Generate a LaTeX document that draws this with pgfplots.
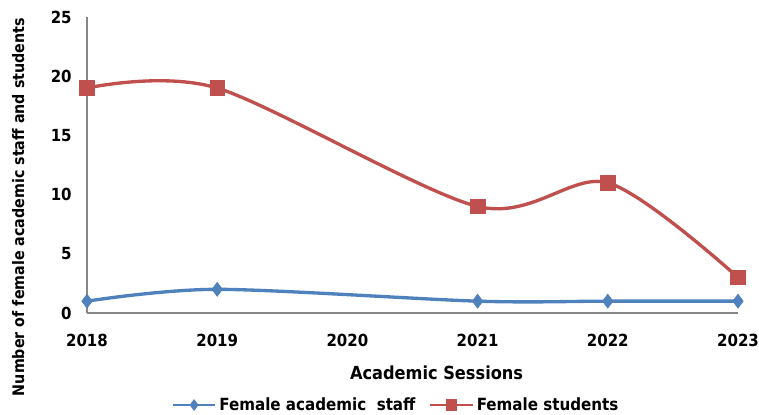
\documentclass[border=0pt]{standalone}
\usepackage{pgfplots}
\pgfplotsset{compat=1.18}
\usepackage{fontspec}
\setmainfont{DejaVu Sans Condensed}
\definecolor{xblue}{HTML}{4F81BD}
\definecolor{xred}{HTML}{C0504D}
\definecolor{axgray}{HTML}{868686}
\begin{document}
\begin{tikzpicture}[x=1pt,y=1pt]
\useasboundingbox (-65.25pt,-75.75pt) rectangle (504pt,234.75pt);
\begin{axis}[
  scale only axis,
  width=488.25pt, height=222pt,
  anchor=south west, at={(0,0)},
  xmin=0, xmax=5, ymin=0, ymax=25,
  xtick={0,1,2,3,4,5},
  xticklabels={2018,2019,2020,2021,2022,2023},
  ytick={0,5,10,15,20,25},
  axis x line=bottom, axis y line=left,
  axis line style={draw=axgray, line width=0.8pt, -},
  major tick length=0pt,
  clip=false,
  /pgf/number format/assume math mode=true,
  ticklabel style={font=\fontsize{12.5}{14}\selectfont\bfseries},
  xticklabel style={yshift=-12pt},
  yticklabel style={xshift=-8pt},
  xlabel={Academic Sessions},
  ylabel={Number of female academic staff and students},
  every axis x label/.style={at={(rel axis cs:0.537,0)}, yshift=-44.5pt, anchor=center, font=\fontsize{13.5}{15}\selectfont\bfseries},
  every axis y label/.style={at={(rel axis cs:0,0.358)}, xshift=-51.5pt, anchor=center, rotate=90, font=\fontsize{11.9}{13}\selectfont\bfseries},
  legend columns=2,
  legend style={at={(rel axis cs:0.475,0)}, yshift=-69pt, anchor=center, draw=none, fill=none,
    font=\fontsize{12.6}{14}\selectfont\bfseries,
    /tikz/every even column/.append style={column sep=8pt}},
  legend image code/.code={\draw[#1, line width=2pt] (0pt,0pt) -- (32pt,0pt); \path[#1,only marks, mark size=4pt] plot coordinates {(16pt,0pt)};},
]
\addplot[color=xblue, line width=2.5pt, smooth, tension=0.5, mark=diamond*, mark size=5.2pt, mark options={solid, fill=xblue, line width=0.5pt}]
  coordinates {(0,1) (1,2) (3,1) (4,1) (5,1)};
\addlegendentry{Female academic\ \ staff}
\addplot[color=xred, line width=2.5pt, smooth, tension=0.5, mark=square*, mark size=5.5pt, mark options={solid, fill=xred, line width=0.5pt}]
  coordinates {(0,19) (1,19) (3,9) (4,11) (5,3)};
\addlegendentry{Female students}
\end{axis}
\end{tikzpicture}
\end{document}
